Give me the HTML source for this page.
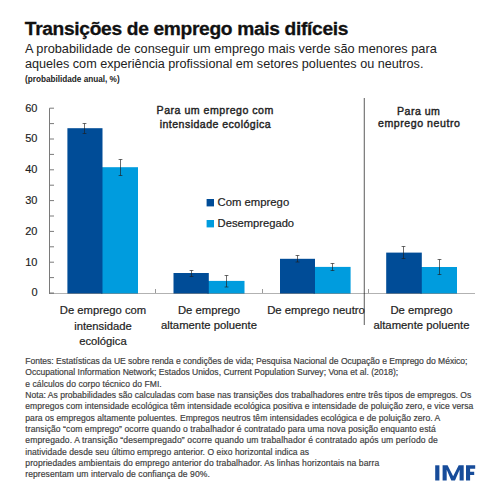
<!DOCTYPE html>
<html><head><meta charset="utf-8"><style>
html,body{margin:0;padding:0;background:#fff;}
body{width:500px;height:500px;position:relative;overflow:hidden;font-family:"Liberation Sans",sans-serif;}
.t{position:absolute;white-space:nowrap;}
svg{position:absolute;left:0;top:0;}
</style></head><body>
<svg width="500" height="500" viewBox="0 0 500 500"><line x1="49.5" y1="108.20" x2="49.5" y2="293.5" stroke="#7a7a7a" stroke-width="1"/><line x1="49.5" y1="293.00" x2="54" y2="293.00" stroke="#7a7a7a" stroke-width="1"/><line x1="49.5" y1="277.60" x2="54" y2="277.60" stroke="#7a7a7a" stroke-width="1"/><line x1="49.5" y1="262.20" x2="54" y2="262.20" stroke="#7a7a7a" stroke-width="1"/><line x1="49.5" y1="246.80" x2="54" y2="246.80" stroke="#7a7a7a" stroke-width="1"/><line x1="49.5" y1="231.40" x2="54" y2="231.40" stroke="#7a7a7a" stroke-width="1"/><line x1="49.5" y1="216.00" x2="54" y2="216.00" stroke="#7a7a7a" stroke-width="1"/><line x1="49.5" y1="200.60" x2="54" y2="200.60" stroke="#7a7a7a" stroke-width="1"/><line x1="49.5" y1="185.20" x2="54" y2="185.20" stroke="#7a7a7a" stroke-width="1"/><line x1="49.5" y1="169.80" x2="54" y2="169.80" stroke="#7a7a7a" stroke-width="1"/><line x1="49.5" y1="154.40" x2="54" y2="154.40" stroke="#7a7a7a" stroke-width="1"/><line x1="49.5" y1="139.00" x2="54" y2="139.00" stroke="#7a7a7a" stroke-width="1"/><line x1="49.5" y1="123.60" x2="54" y2="123.60" stroke="#7a7a7a" stroke-width="1"/><line x1="49.5" y1="108.20" x2="54" y2="108.20" stroke="#7a7a7a" stroke-width="1"/><line x1="155.5" y1="289" x2="155.5" y2="293" stroke="#9a9a9a" stroke-width="1"/><line x1="262.5" y1="289" x2="262.5" y2="293" stroke="#9a9a9a" stroke-width="1"/><line x1="368.5" y1="289" x2="368.5" y2="293" stroke="#9a9a9a" stroke-width="1"/><line x1="364.3" y1="98" x2="364.3" y2="325" stroke="#6a6a6a" stroke-width="1.1"/><rect x="101.0" y="167.2" width="37.00" height="126.30" fill="#009CDE"/><rect x="67.4" y="128.2" width="35.10" height="165.30" fill="#004C97"/><path d="M84.5 123.5 V133.5 M82.6 123.5 H86.4 M82.6 133.5 H86.4" stroke="#1e1e1e" stroke-opacity="0.65" stroke-width="1" fill="none"/><path d="M120.5 159.5 V175.5 M118.6 159.5 H122.4 M118.6 175.5 H122.4" stroke="#1e1e1e" stroke-opacity="0.65" stroke-width="1" fill="none"/><rect x="207.3" y="280.9" width="37.20" height="12.60" fill="#009CDE"/><rect x="173.5" y="273" width="35.30" height="20.50" fill="#004C97"/><path d="M191.5 270.5 V276.5 M189.6 270.5 H193.4 M189.6 276.5 H193.4" stroke="#1e1e1e" stroke-opacity="0.65" stroke-width="1" fill="none"/><path d="M226.5 275.5 V287 M224.6 275.5 H228.4 M224.6 287 H228.4" stroke="#1e1e1e" stroke-opacity="0.65" stroke-width="1" fill="none"/><rect x="313.5" y="266.9" width="37.10" height="26.60" fill="#009CDE"/><rect x="280" y="258.8" width="35.00" height="34.70" fill="#004C97"/><path d="M297.5 255.5 V262 M295.6 255.5 H299.4 M295.6 262 H299.4" stroke="#1e1e1e" stroke-opacity="0.65" stroke-width="1" fill="none"/><path d="M332.5 263.5 V270.5 M330.6 263.5 H334.4 M330.6 270.5 H334.4" stroke="#1e1e1e" stroke-opacity="0.65" stroke-width="1" fill="none"/><rect x="420.3" y="267" width="36.70" height="26.50" fill="#009CDE"/><rect x="386.2" y="252.6" width="35.60" height="40.90" fill="#004C97"/><path d="M403.5 246.5 V258.5 M401.6 246.5 H405.4 M401.6 258.5 H405.4" stroke="#1e1e1e" stroke-opacity="0.65" stroke-width="1" fill="none"/><path d="M439.5 259.5 V274.5 M437.6 259.5 H441.4 M437.6 274.5 H441.4" stroke="#1e1e1e" stroke-opacity="0.65" stroke-width="1" fill="none"/><line x1="49" y1="293.5" x2="475" y2="293.5" stroke="#000" stroke-opacity="0.3" stroke-width="1"/><rect x="206.6" y="199" width="7.4" height="7.4" fill="#004C97"/><rect x="206.6" y="220" width="7.4" height="7.4" fill="#009CDE"/><rect x="435.2" y="465.3" width="4.2" height="15.2" fill="#174C9A"/><path d="M442.6 465.3 H447.6 L453.15 476.2 L458.7 465.3 H463.7 V480.5 H459.6 V469.8 L455.0 480.5 H451.3 L446.7 469.8 V480.5 H442.6 Z" fill="#174C9A"/><path d="M466 465.3 H475.2 V468.7 H470.1 V471.7 H474.2 V474.9 H470.1 V480.5 H466 Z" fill="#174C9A"/></svg>
<div class="t" style="left:24.80px;top:16.93px;font-size:19.2px;line-height:23.04px;font-weight:bold;color:#111;letter-spacing:-0.33px;-webkit-text-stroke:0.3px #111;">Transições de emprego mais difíceis</div><div class="t" style="left:25.00px;top:40.53px;font-size:12.75px;line-height:15.30px;font-weight:normal;color:#222;letter-spacing:0px;">A probabilidade de conseguir um emprego mais verde são menores para</div><div class="t" style="left:25.00px;top:56.63px;font-size:12.65px;line-height:15.18px;font-weight:normal;color:#222;letter-spacing:0px;">aqueles com experiência profissional em setores poluentes ou neutros.</div><div class="t" style="left:25.00px;top:75.04px;font-size:8.2px;line-height:9.84px;font-weight:bold;color:#222;letter-spacing:0px;">(probabilidade anual, %)</div><div class="t" style="left:7.50px;width:30px;text-align:right;top:286.39px;font-size:11px;line-height:13.20px;font-weight:normal;color:#222;letter-spacing:0px;-webkit-text-stroke:0.15px #222;">0</div><div class="t" style="left:7.50px;width:30px;text-align:right;top:255.59px;font-size:11px;line-height:13.20px;font-weight:normal;color:#222;letter-spacing:0px;-webkit-text-stroke:0.15px #222;">10</div><div class="t" style="left:7.50px;width:30px;text-align:right;top:224.79px;font-size:11px;line-height:13.20px;font-weight:normal;color:#222;letter-spacing:0px;-webkit-text-stroke:0.15px #222;">20</div><div class="t" style="left:7.50px;width:30px;text-align:right;top:193.99px;font-size:11px;line-height:13.20px;font-weight:normal;color:#222;letter-spacing:0px;-webkit-text-stroke:0.15px #222;">30</div><div class="t" style="left:7.50px;width:30px;text-align:right;top:163.19px;font-size:11px;line-height:13.20px;font-weight:normal;color:#222;letter-spacing:0px;-webkit-text-stroke:0.15px #222;">40</div><div class="t" style="left:7.50px;width:30px;text-align:right;top:132.39px;font-size:11px;line-height:13.20px;font-weight:normal;color:#222;letter-spacing:0px;-webkit-text-stroke:0.15px #222;">50</div><div class="t" style="left:7.50px;width:30px;text-align:right;top:101.59px;font-size:11px;line-height:13.20px;font-weight:normal;color:#222;letter-spacing:0px;-webkit-text-stroke:0.15px #222;">60</div><div class="t" style="left:135.20px;width:160px;text-align:center;top:103.97px;font-size:10.6px;line-height:12.72px;font-weight:normal;color:#222;letter-spacing:0.5px;-webkit-text-stroke:0.4px #222;">Para um emprego com</div><div class="t" style="left:135.40px;width:160px;text-align:center;top:117.57px;font-size:10.6px;line-height:12.72px;font-weight:normal;color:#222;letter-spacing:0.45px;-webkit-text-stroke:0.4px #222;">intensidade ecológica</div><div class="t" style="left:358.70px;width:120px;text-align:center;top:104.57px;font-size:10.6px;line-height:12.72px;font-weight:normal;color:#222;letter-spacing:0.45px;-webkit-text-stroke:0.4px #222;">Para um</div><div class="t" style="left:359.20px;width:120px;text-align:center;top:117.37px;font-size:10.6px;line-height:12.72px;font-weight:normal;color:#222;letter-spacing:0.55px;-webkit-text-stroke:0.4px #222;">emprego neutro</div><div class="t" style="left:217.60px;top:196.10px;font-size:11.3px;line-height:13.56px;font-weight:normal;color:#222;letter-spacing:0px;-webkit-text-stroke:0.2px #222;">Com emprego</div><div class="t" style="left:217.60px;top:217.00px;font-size:11.2px;line-height:13.44px;font-weight:normal;color:#222;letter-spacing:0px;-webkit-text-stroke:0.2px #222;">Desempregado</div><div class="t" style="left:33.00px;width:140px;text-align:center;top:304.35px;font-size:11.25px;line-height:13.50px;font-weight:normal;color:#222;letter-spacing:0px;-webkit-text-stroke:0.2px #222;">De emprego com</div><div class="t" style="left:33.00px;width:140px;text-align:center;top:319.95px;font-size:11.25px;line-height:13.50px;font-weight:normal;color:#222;letter-spacing:0px;-webkit-text-stroke:0.2px #222;">intensidade</div><div class="t" style="left:33.00px;width:140px;text-align:center;top:335.15px;font-size:11.25px;line-height:13.50px;font-weight:normal;color:#222;letter-spacing:0px;-webkit-text-stroke:0.2px #222;">ecológica</div><div class="t" style="left:139.00px;width:140px;text-align:center;top:303.80px;font-size:11.3px;line-height:13.56px;font-weight:normal;color:#222;letter-spacing:0px;-webkit-text-stroke:0.2px #222;">De emprego</div><div class="t" style="left:139.00px;width:140px;text-align:center;top:319.30px;font-size:11.3px;line-height:13.56px;font-weight:normal;color:#222;letter-spacing:0px;-webkit-text-stroke:0.2px #222;">altamente poluente</div><div class="t" style="left:246.00px;width:140px;text-align:center;top:303.96px;font-size:11.35px;line-height:13.62px;font-weight:normal;color:#222;letter-spacing:0px;-webkit-text-stroke:0.2px #222;">De emprego neutro</div><div class="t" style="left:351.50px;width:140px;text-align:center;top:303.80px;font-size:11.3px;line-height:13.56px;font-weight:normal;color:#222;letter-spacing:0px;-webkit-text-stroke:0.2px #222;">De emprego</div><div class="t" style="left:351.50px;width:140px;text-align:center;top:319.30px;font-size:11.3px;line-height:13.56px;font-weight:normal;color:#222;letter-spacing:0px;-webkit-text-stroke:0.2px #222;">altamente poluente</div><div class="t" style="left:25.30px;top:356.01px;font-size:8.55px;line-height:10.26px;font-weight:normal;color:#404040;letter-spacing:-0.0101px;-webkit-text-stroke:0.18px #404040;">Fontes: Estatísticas da UE sobre renda e condições de vida; Pesquisa Nacional de Ocupação e Emprego do México;</div><div class="t" style="left:25.30px;top:367.34px;font-size:8.55px;line-height:10.26px;font-weight:normal;color:#404040;letter-spacing:0.0px;-webkit-text-stroke:0.18px #404040;">Occupational Information Network; Estados Unidos, Current Population Survey; Vona et al. (2018);</div><div class="t" style="left:25.30px;top:378.67px;font-size:8.55px;line-height:10.26px;font-weight:normal;color:#404040;letter-spacing:0.0588px;-webkit-text-stroke:0.18px #404040;">e cálculos do corpo técnico do FMI.</div><div class="t" style="left:25.30px;top:390.00px;font-size:8.55px;line-height:10.26px;font-weight:normal;color:#404040;letter-spacing:0.0196px;-webkit-text-stroke:0.18px #404040;">Nota: As probabilidades são calculadas com base nas transições dos trabalhadores entre três tipos de empregos. Os</div><div class="t" style="left:25.30px;top:401.33px;font-size:8.55px;line-height:10.26px;font-weight:normal;color:#404040;letter-spacing:0.0496px;-webkit-text-stroke:0.18px #404040;">empregos com intensidade ecológica têm intensidade ecológica positiva e intensidade de poluição zero, e vice versa</div><div class="t" style="left:25.30px;top:412.66px;font-size:8.55px;line-height:10.26px;font-weight:normal;color:#404040;letter-spacing:0.0441px;-webkit-text-stroke:0.18px #404040;">para os empregos altamente poluentes. Empregos neutros têm intensidades ecológica e de poluição zero. A</div><div class="t" style="left:25.30px;top:423.99px;font-size:8.55px;line-height:10.26px;font-weight:normal;color:#404040;letter-spacing:0.0758px;-webkit-text-stroke:0.18px #404040;">transição “com emprego” ocorre quando o trabalhador é contratado para uma nova posição enquanto está</div><div class="t" style="left:25.30px;top:435.32px;font-size:8.55px;line-height:10.26px;font-weight:normal;color:#404040;letter-spacing:0.1237px;-webkit-text-stroke:0.18px #404040;">empregado. A transição “desempregado” ocorre quando um trabalhador é contratado após um período de</div><div class="t" style="left:25.30px;top:446.65px;font-size:8.55px;line-height:10.26px;font-weight:normal;color:#404040;letter-spacing:0.0548px;-webkit-text-stroke:0.18px #404040;">inatividade desde seu último emprego anterior. O eixo horizontal indica as</div><div class="t" style="left:25.30px;top:457.98px;font-size:8.55px;line-height:10.26px;font-weight:normal;color:#404040;letter-spacing:0.0787px;-webkit-text-stroke:0.18px #404040;">propriedades ambientais do emprego anterior do trabalhador. As linhas horizontais na barra</div><div class="t" style="left:25.30px;top:469.31px;font-size:8.55px;line-height:10.26px;font-weight:normal;color:#404040;letter-spacing:0.0682px;-webkit-text-stroke:0.18px #404040;">representam um intervalo de confiança de 90%.</div>
</body></html>
